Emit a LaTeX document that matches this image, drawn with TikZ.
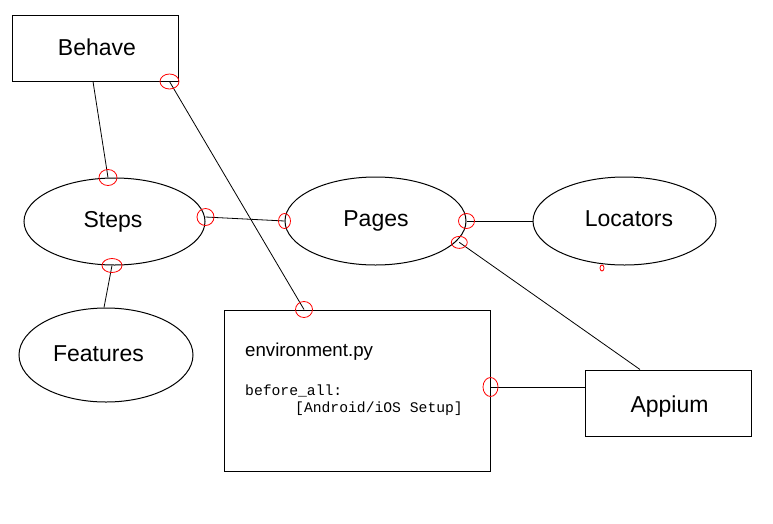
\documentclass[tikz,border=0pt]{standalone}
\usepackage{fontspec}
\setmainfont{Liberation Sans}
\newfontfamily\codefont{Liberation Mono}
\usetikzlibrary{shapes.geometric,calc}
\tikzset{
  box/.style={draw, rectangle, inner sep=0, line width=1pt},
  oval/.style={draw, ellipse, inner sep=0, line width=1pt},
  lbl/.style={anchor=base, inner sep=0, font=\fontsize{23}{27}\selectfont},
  conn/.style={line width=0.8pt},
  port/.style={draw=red, ellipse, inner sep=0, line width=0.8pt},
}
\begin{document}
\begin{tikzpicture}[x=1pt, y=-1pt]
\useasboundingbox (0,0) rectangle (773,523);
% shapes
\node[box, minimum width=166, minimum height=66] (behave) at (95,48) {};
\node[oval, minimum width=181, minimum height=87] (steps) at (114.5,221.5) {};
\node[oval, minimum width=181, minimum height=88] (pages) at (375.5,221) {};
\node[oval, minimum width=183, minimum height=88] (locators) at (624.5,221) {};
\node[oval, minimum width=174, minimum height=94] (features) at (106,355) {};
\node[box, minimum width=266, minimum height=161] (env) at (357,390.5) {};
\node[box, minimum width=166, minimum height=66] (appium) at (668,403) {};
% labels
\node[lbl] (behavetxt) at (97,55) {Behave};
\node[lbl] (stepstxt) at (113,227) {Steps};
\node[lbl] (pagestxt) at (376,226.7) {Pages};
\node[lbl] (locatorstxt) at (629,226.7) {Locators};
\node[lbl] (featurestxt) at (98.5,361) {Features};
\node[lbl] (appiumtxt) at (669.5,412) {Appium};
\node[anchor=base west, inner sep=0, font=\fontsize{18.7}{22}\selectfont] (envtitle) at (245,356) {environment.py};
\node[anchor=base west, inner sep=0, font=\codefont\fontsize{14.7}{17}\selectfont] (code1) at (245,395) {before\_all:};
\node[anchor=base west, inner sep=0, font=\codefont\fontsize{14.7}{17}\selectfont] (code2) at (295,412) {[Android/iOS Setup]};
% connectors
\draw[conn] ([xshift=-2pt]behave.south) -- ([xshift=-6.5pt]steps.north);
\draw[conn] ([xshift=-9pt]behave.south east) -- ([xshift=-53pt]env.north);
\draw[conn] ([yshift=4.5pt]steps.east) -- (pages.west);
\draw[conn] ([xshift=-2.5pt]steps.south) -- ([xshift=-2pt]features.north);
\draw[conn] (pages.east) -- (locators.west);
\draw[conn] ([xshift=4pt]pages.-15) -- ([xshift=-28pt]appium.north);
\draw[conn] ([yshift=3.5pt]env.east) -- ([yshift=16pt]appium.west);
% red ports
\node[port, minimum width=18, minimum height=16] (p1) at ([xshift=-6.5pt]steps.north) {};
\node[port, minimum width=19, minimum height=15] (p2) at ([xshift=-9pt]behave.south east) {};
\node[port, minimum width=17, minimum height=16] (p3) at ([xshift=-53pt]env.north) {};
\node[port, minimum width=17, minimum height=17] (p4) at ([yshift=4.5pt]steps.east) {};
\node[port, minimum width=12, minimum height=15] (p5) at (pages.west) {};
\node[port, minimum width=20, minimum height=14] (p6) at ([xshift=-2.5pt]steps.south) {};
\node[port, minimum width=16, minimum height=15] (p7) at (pages.east) {};
\node[port, minimum width=16, minimum height=12] (p8) at ([xshift=4pt]pages.-15) {};
\node[port, minimum width=15, minimum height=19] (p9) at ([yshift=3.5pt]env.east) {};
\node[port, minimum width=4, minimum height=6] (p10) at (602,268) {};
\end{tikzpicture}
\end{document}
